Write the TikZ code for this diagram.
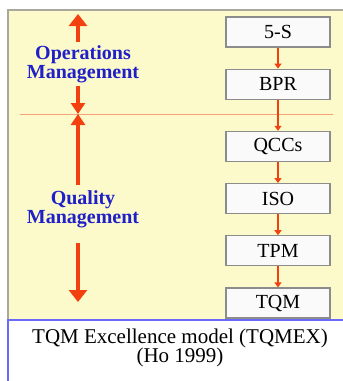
\documentclass[tikz,border=0pt]{standalone}
\usepackage{fontspec}
\setmainfont{Liberation Serif}
\usetikzlibrary{arrows.meta, positioning}

\definecolor{panelyellow}{HTML}{FCFACB}
\definecolor{panelgray}{HTML}{A8A89C}
\definecolor{boxgray}{HTML}{8C8C8C}
\definecolor{boxwhite}{HTML}{FAFAFA}
\definecolor{arrowred}{HTML}{F2400E}
\definecolor{lineorange}{HTML}{F8A078}
\definecolor{labelblue}{HTML}{2020C8}
\definecolor{captionblue}{HTML}{6A6AF8}

\begin{document}
\begin{tikzpicture}[
    x=1pt, y=-1pt,
    node distance=21pt,
    stage/.style={draw=boxgray, fill=boxwhite, line width=1.2pt, minimum width=104pt,
        minimum height=30pt, inner sep=0pt, font=\fontsize{20}{20}\selectfont}, % Boxes on the right
    link/.style={-{Triangle[length=5pt, width=7pt]}, draw=arrowred, line width=1.4pt},
    span/.style={-{Triangle[length=12pt, width=18pt]}, draw=arrowred, line width=3.2pt}, % Big range arrows
    inner span/.style={span, -{Triangle[length=11pt, width=14pt]}},
    area/.style={text=labelblue, align=center, inner sep=0pt,
        font=\fontsize{20}{19}\selectfont\bfseries}
]
\useasboundingbox (0,0) rectangle (343,381);

% Yellow panel and caption strip
\fill[panelyellow] (8,10) rectangle (345,319);
\draw[panelgray, line width=2pt] (8,319) -- (8,10) -- (345,10);
\draw[captionblue, line width=1.5pt] (345,320) -- (8,320) -- (8,383);

% Divider between the two areas
\draw[lineorange, line width=1pt] (20,114) -- (333,114);

% Chain of stages
\node[stage] (s5) at (278,32) {5-S};
\node[stage, below=of s5] (bpr) {BPR};
\node[stage, below=31pt of bpr] (qccs) {QCCs};
\node[stage, below=of qccs] (iso) {ISO};
\node[stage, below=of iso] (tpm) {TPM};
\node[stage, below=of tpm] (tqm) {TQM};

\foreach \a/\b in {s5/bpr, bpr/qccs, qccs/iso, iso/tpm, tpm/tqm}
    \draw[link] (\a) -- (\b);

% Area labels with their range arrows
\coordinate (top) at (78,14);
\coordinate (split) at (78,114);
\coordinate (bottom) at (78,302);
\node[area] (ops) at (83,64) {Operations\\Management};
\node[area] (qual) at (83,209) {Quality\\Management};

\draw[span, shorten <=3pt] (ops.north -| top) -- (top);
\draw[inner span, shorten <=3pt] (ops.south -| top) -- (split);
\draw[inner span, shorten <=5pt] (qual.north -| top) -- (split);
\draw[span, shorten <=15pt] (qual.south -| top) -- (bottom);

% Caption
\node[align=center, inner sep=0pt, font=\fontsize{21}{19.5}\selectfont] (caption) at (180,348)
    {TQM Excellence model (TQMEX)\\(Ho 1999)};
\end{tikzpicture}
\end{document}
